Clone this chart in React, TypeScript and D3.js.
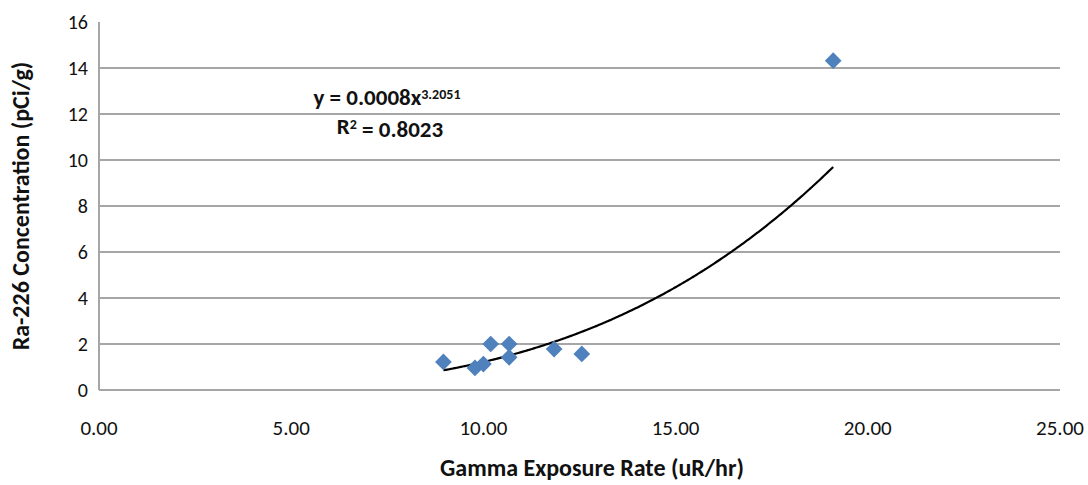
import * as d3 from "d3";
import { useEffect, useRef } from "react";

const width = 1088;
const height = 485;
const margin = { top: 22, right: 28, bottom: 95, left: 99 };
const font = "Carlito, Calibri, Lato, 'Open Sans', sans-serif";

// measured points: gamma exposure rate vs Ra-226 concentration
const gammaRate = [8.96, 9.78, 10.0, 10.19, 10.67, 10.67, 11.84, 12.56, 19.1];
const raConcentration = [1.22, 0.96, 1.13, 2.0, 2.0, 1.42, 1.78, 1.57, 14.32];

const xTicks = [0, 5, 10, 15, 20, 25];
const yTicks = [0, 2, 4, 6, 8, 10, 12, 14, 16];

// power trendline (unrounded coefficient; label shows the rounded form)
const trendCoef = 0.00076;
const trendExp = 3.2051;
const eqLabel = "y = 0.0008x";
const eqExpLabel = "3.2051";
const rSquared = "0.8023";

function createChart(el: SVGSVGElement) {
  const svg = d3.select(el);
  svg.selectAll("*").remove();

  const x = d3
    .scaleLinear()
    .domain([0, 25])
    .range([margin.left, width - margin.right]);
  const y = d3
    .scaleLinear()
    .domain([0, 16])
    .range([height - margin.bottom, margin.top]);

  // gridlines (no line at the top value)
  svg
    .append("g")
    .selectAll("line")
    .data(yTicks.filter((t) => t > 0 && t < 16))
    .join("line")
    .attr("x1", x(0))
    .attr("x2", x(25))
    .attr("y1", (d) => y(d))
    .attr("y2", (d) => y(d))
    .attr("stroke", "#a6a6a6")
    .attr("stroke-width", 2);

  // axis lines
  svg
    .append("line")
    .attr("x1", x(0))
    .attr("x2", x(25))
    .attr("y1", y(0))
    .attr("y2", y(0))
    .attr("stroke", "#a6a6a6")
    .attr("stroke-width", 2);
  svg
    .append("line")
    .attr("x1", x(0))
    .attr("x2", x(0))
    .attr("y1", y(0))
    .attr("y2", y(16))
    .attr("stroke", "#a6a6a6")
    .attr("stroke-width", 2);

  // y tick labels
  svg
    .append("g")
    .selectAll("text")
    .data(yTicks)
    .join("text")
    .attr("x", x(0) - 11)
    .attr("y", (d) => y(d))
    .attr("dy", "0.35em")
    .attr("text-anchor", "end")
    .style("font-family", font)
    .style("font-size", "20px")
    .attr("fill", "#111")
    .text((d) => d);

  // x tick labels
  svg
    .append("g")
    .selectAll("text")
    .data(xTicks)
    .join("text")
    .attr("x", (d) => x(d))
    .attr("y", y(0) + 38)
    .attr("dy", "0.35em")
    .attr("text-anchor", "middle")
    .style("font-family", font)
    .style("font-size", "21px")
    .attr("fill", "#111")
    .text((d) => d.toFixed(2));

  // axis titles
  svg
    .append("text")
    .attr("x", 592)
    .attr("y", 468)
    .attr("dy", "0.35em")
    .attr("text-anchor", "middle")
    .style("font-family", font)
    .style("font-size", "24px")
    .style("font-weight", "bold")
    .attr("fill", "#111")
    .text("Gamma Exposure Rate (uR/hr)");

  svg
    .append("text")
    .attr("transform", `translate(21,${(y(0) + y(16)) / 2})rotate(-90)`)
    .attr("dy", "0.35em")
    .attr("text-anchor", "middle")
    .style("font-family", font)
    .style("font-size", "24px")
    .style("font-weight", "bold")
    .attr("fill", "#111")
    .text("Ra-226 Concentration (pCi/g)");

  // trendline across the range of the data
  const [xMin, xMax] = d3.extent(gammaRate) as [number, number];
  const trendX = d3.range(xMin, xMax, 0.05).concat([xMax]);
  const line = d3
    .line<number>()
    .x((d) => x(d))
    .y((d) => y(trendCoef * Math.pow(d, trendExp)))
    .curve(d3.curveMonotoneX);
  svg
    .append("path")
    .datum(trendX)
    .attr("d", line)
    .attr("fill", "none")
    .attr("stroke", "#000")
    .attr("stroke-width", 2.2);

  // diamond markers
  const diamond = d3.symbol(d3.symbolSquare, 140);
  svg
    .append("g")
    .selectAll("path")
    .data(gammaRate.map((g, i) => ({ g, r: raConcentration[i] })))
    .join("path")
    .attr("d", diamond)
    .attr("transform", (d) => `translate(${x(d.g)},${y(d.r)})rotate(45)`)
    .attr("fill", "#4f81bd");

  // equation label
  const eq = svg
    .append("text")
    .attr("x", 387)
    .attr("y", 97)
    .attr("dy", "0.35em")
    .attr("text-anchor", "middle")
    .style("font-family", font)
    .style("font-size", "23px")
    .style("font-weight", "bold")
    .attr("fill", "#111");
  eq.append("tspan").text(eqLabel);
  eq.append("tspan")
    .attr("dy", "-0.45em")
    .style("font-size", "14px")
    .text(eqExpLabel);

  const r2 = svg
    .append("text")
    .attr("x", 390)
    .attr("y", 126)
    .attr("dy", "0.35em")
    .attr("text-anchor", "middle")
    .style("font-family", font)
    .style("font-size", "23px")
    .style("font-weight", "bold")
    .attr("fill", "#111");
  r2.append("tspan").text("R");
  r2.append("tspan")
    .attr("dy", "-0.35em")
    .style("font-size", "14px")
    .text("2");
  r2.append("tspan").attr("dy", "0.35em").text(` = ${rSquared}`);
}

function App() {
  const ref = useRef<SVGSVGElement>(null);

  useEffect(() => {
    if (ref.current) createChart(ref.current);
  }, []);

  return (
    <svg
      ref={ref}
      width={width}
      height={height}
      style={{ position: "absolute", left: 0, top: 0, background: "#fff" }}
    ></svg>
  );
}

export default App;
